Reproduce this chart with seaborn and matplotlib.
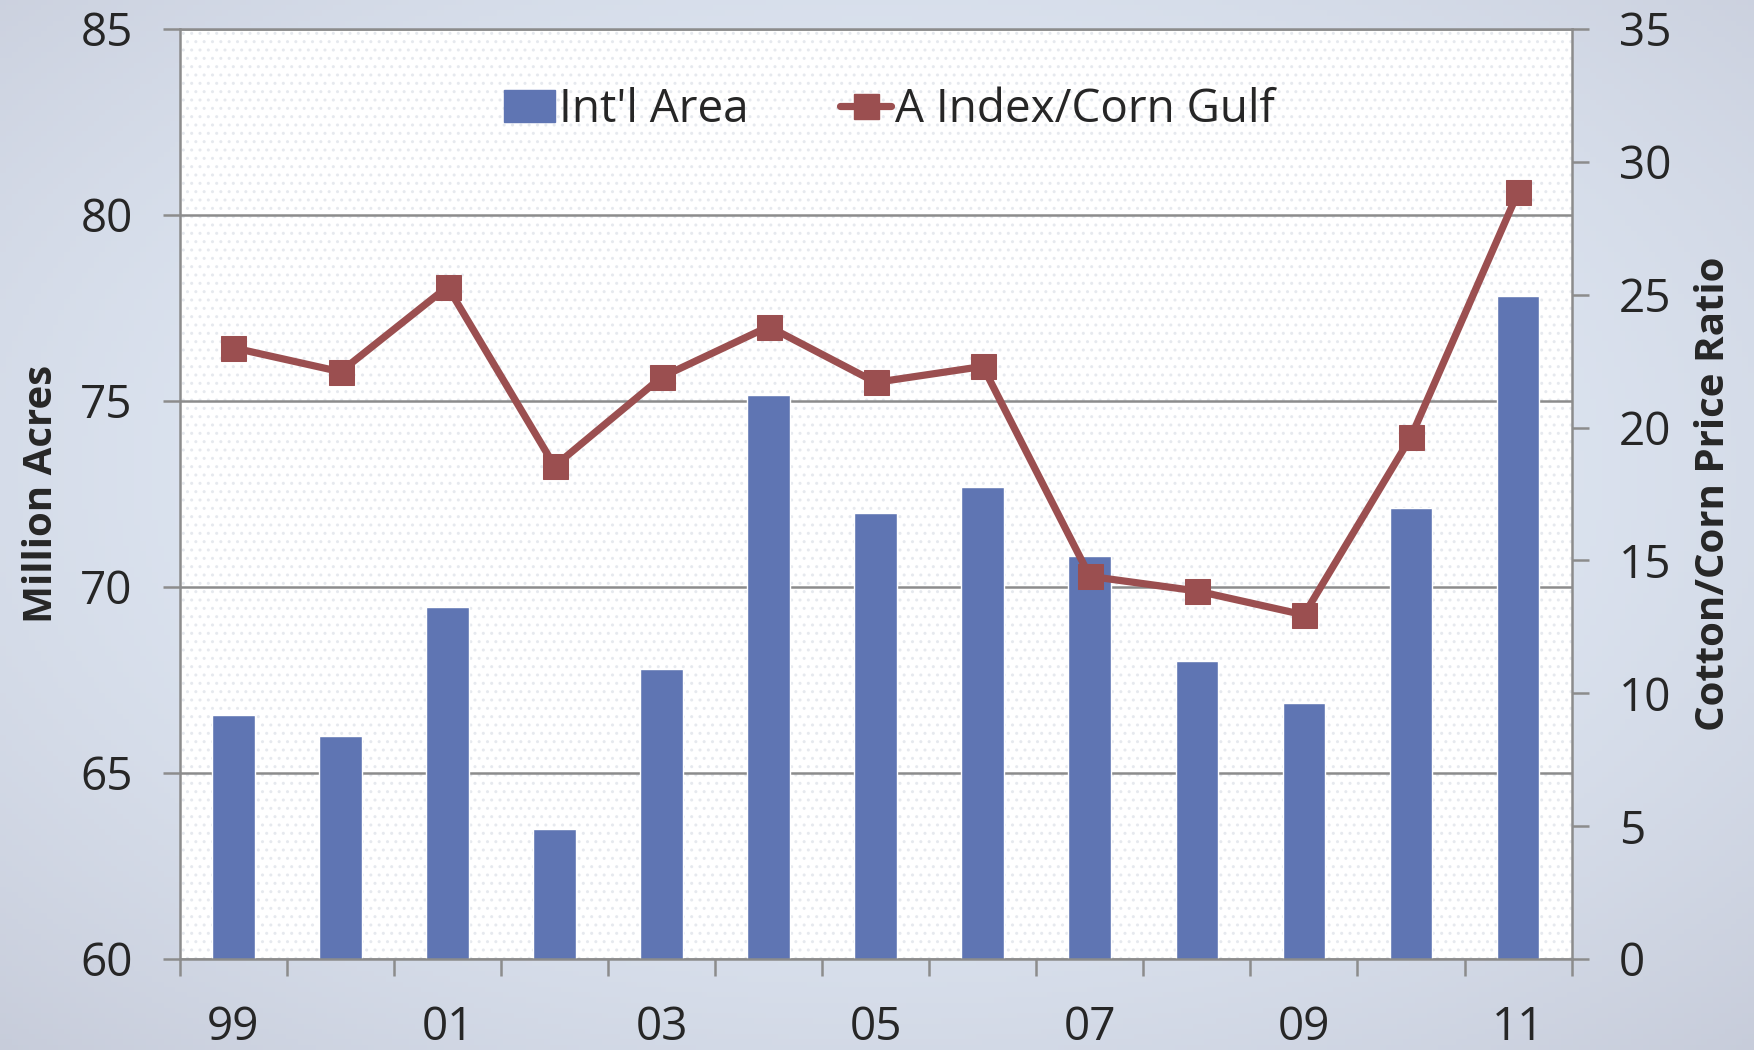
import numpy as np
import pandas as pd
import matplotlib
matplotlib.use("Agg")
import matplotlib.pyplot as plt
import seaborn as sns
from matplotlib.patches import Patch
from matplotlib.lines import Line2D

# data
years = ['99', '00', '01', '02', '03', '04', '05', '06', '07', '08', '09', '10', '11']
intl_area = [66.55, 66.0, 69.47, 63.5, 67.8, 75.15, 71.99, 72.68, 70.82, 68.02, 66.88, 72.11, 77.82]
price_ratio = [23.0, 22.1, 25.3, 18.55, 21.9, 23.8, 21.7, 22.3, 14.4, 13.85, 12.95, 19.65, 28.85]
tick_labels = ['99', '01', '03', '05', '07', '09', '11']

df = pd.DataFrame({'year': years, 'area': intl_area, 'ratio': price_ratio, 'pos': np.arange(len(years))})

sns.set_theme(style="white")
plt.rcParams['font.family'] = ['Open Sans', 'DejaVu Sans']

bar_col = '#5f75b3'
line_col = '#9b4f50'
grid_col = '#8c8c8c'

fig = plt.figure(figsize=(17.54, 10.5), dpi=100)

# gradient background (light blue centre, greyer corners)
bg = fig.add_axes([0, 0, 1, 1], zorder=-10)
yy, xx = np.mgrid[0:1:200j, 0:1:300j]
d = np.sqrt((xx - 0.5) ** 2 + (yy - 0.45) ** 2)
c0 = np.array([0.895, 0.93, 0.975])
c1 = np.array([0.78, 0.80, 0.855])
t = np.clip(d / 0.75, 0, 1)[..., None] ** 1.7
bg.imshow(c0 * (1 - t) + c1 * t, aspect='auto', extent=[0, 1, 0, 1], origin='upper')
bg.axis('off')

ax = fig.add_axes([0.1026, 0.0867, 0.7934, 0.8857])
ax.set_facecolor('white')
# faint dotted texture
ax.add_patch(plt.Rectangle((0, 0), 1, 1, transform=ax.transAxes, facecolor='none',
                           edgecolor='#e6e9ee', hatch='..', linewidth=0, zorder=0))

sns.barplot(data=df, x='year', y='area', color=bar_col, width=0.4, saturation=1, ax=ax, zorder=2)
ax.set_ylim(60, 85)
ax.set_xlim(-0.5, 12.5)
ax.set_yticks(np.arange(60, 86, 5))
ax.yaxis.grid(True, color=grid_col, linewidth=1.8, zorder=1)
ax.set_axisbelow(True)

ax.set_xticks(np.arange(0, 13, 2))
ax.set_xticklabels(tick_labels)
ax.set_xticks(np.arange(-0.5, 13, 1), minor=True)
ax.tick_params(axis='x', which='major', length=0, pad=33, labelsize=33)
ax.tick_params(axis='x', which='minor', length=12, width=1.8, color=grid_col, direction='out', bottom=True)
ax.tick_params(axis='y', which='major', length=12, width=1.8, color=grid_col, direction='out', left=True,
               labelsize=33, pad=22)
ax.set_xlabel('')
ax.set_ylabel('Million Acres', fontsize=29, fontweight='bold', labelpad=14)

for s in ['left', 'bottom', 'top']:
    ax.spines[s].set_color(grid_col)
    ax.spines[s].set_linewidth(1.8)
ax.spines['right'].set_visible(False)

ax2 = ax.twinx()
sns.lineplot(data=df, x='pos', y='ratio', color=line_col, linewidth=5.2, marker='s', markersize=18,
             markeredgecolor=line_col, ax=ax2, zorder=5)
ax2.set_ylim(0, 35)
ax2.set_xlim(-0.5, 12.5)
ax2.set_yticks(np.arange(0, 36, 5))
ax2.tick_params(axis='y', length=12, width=1.8, color=grid_col, direction='out', right=True,
                labelsize=33, pad=22)
ax2.set_ylabel('Cotton/Corn Price Ratio', fontsize=29, fontweight='bold', labelpad=16)
ax2.set_xlabel('')
for s in ['left', 'bottom', 'top']:
    ax2.spines[s].set_visible(False)
ax2.spines['right'].set_color(grid_col)
ax2.spines['right'].set_linewidth(1.8)
ax2.grid(False)

handles = [Patch(facecolor=bar_col, edgecolor=bar_col),
           Line2D([0], [0], color=line_col, linewidth=5.2, marker='s', markersize=18)]
ax2.legend(handles, ["Int'l Area", 'A Index/Corn Gulf'], loc='center', bbox_to_anchor=(0.51, 0.913),
           ncol=2, frameon=False, fontsize=33, handlelength=1.1, handletextpad=0.1, columnspacing=2.0)

fig.savefig('out.png', dpi=100)
